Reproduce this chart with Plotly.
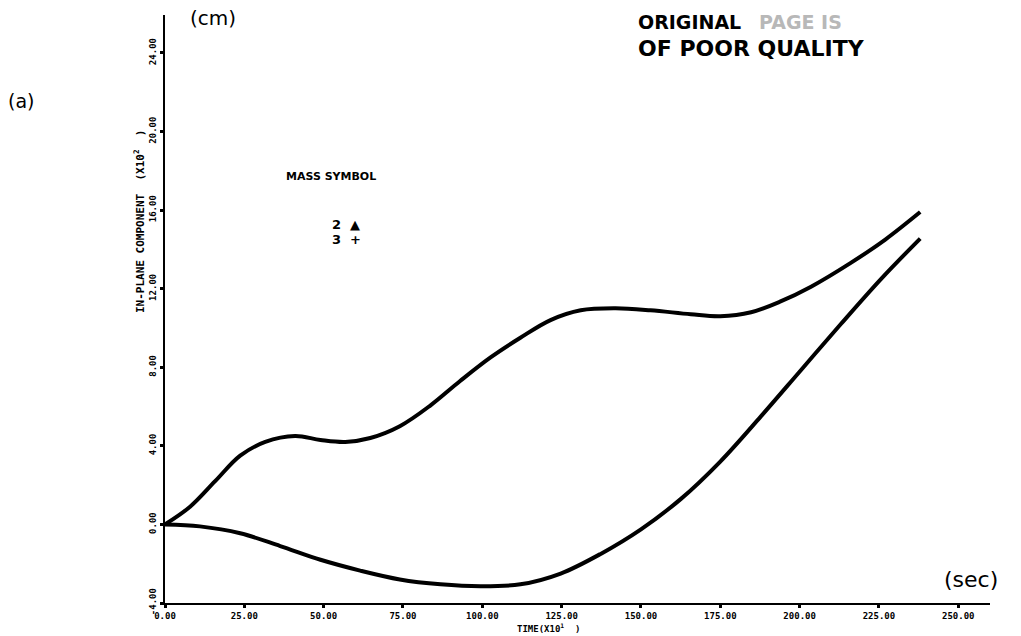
import plotly.graph_objects as go

# Time axis (x10 sec) and in-plane displacement (x10^2 cm) for the two masses
time_m2 = [0, 7.9, 15.8, 23.7, 31.6, 41, 49, 56.8, 64.7, 74, 83.6, 93, 102.6, 112,
           121.5, 131, 142, 153, 165.7, 175, 184.7, 194, 203.6, 216, 227, 238]
disp_m2 = [0, 0.9, 2.2, 3.5, 4.2, 4.5, 4.3, 4.2, 4.4, 5.0, 6.05, 7.3, 8.5, 9.5,
           10.4, 10.9, 11.0, 10.9, 10.7, 10.6, 10.8, 11.35, 12.1, 13.3, 14.5, 15.9]

time_m3 = [0, 11, 23.7, 36.3, 49, 61.5, 74, 86.8, 99.4, 112, 124.7, 137.3, 150,
           162.6, 175, 187.8, 200.4, 213, 225.7, 238]
disp_m3 = [0, -0.1, -0.45, -1.1, -1.8, -2.35, -2.8, -3.05, -3.15, -3.05, -2.5, -1.5,
           -0.25, 1.3, 3.2, 5.5, 7.85, 10.2, 12.5, 14.55]

x_ticks = [0, 25, 50, 75, 100, 125, 150, 175, 200, 225, 250]
x_tick_labels = ["0.00", "25.00", "50.00", "75.00", "100.00", "125.00", "150.00",
                 "175.00", "200.00", "225.00", "250.00"]
y_ticks = [-4, 0, 4, 8, 12, 16, 20, 24]
y_tick_labels = ["-4.00", "0.00", "4.00", "8.00", "12.00", "16.00", "20.00", "24.00"]

# plot-area geometry in page pixels
W, H = 1021, 636
L, R, T, B = 165, 31, 15, 33
PW, PH = W - L - R, H - T - B

fig = go.Figure()
for t, d, name in [(time_m2, disp_m2, "2"), (time_m3, disp_m3, "3")]:
    fig.add_trace(go.Scatter(
        x=t, y=d, name=name, mode="lines",
        line=dict(color="black", width=4, shape="spline", smoothing=1.0),
        showlegend=False,
    ))

tick_font = dict(family="DejaVu Sans Mono", size=9, color="black", weight="bold")

fig.update_layout(
    width=W, height=H,
    margin=dict(l=L, r=R, t=T, b=B),
    paper_bgcolor="white", plot_bgcolor="white",
    xaxis=dict(
        range=[0, 260], tickmode="array", tickvals=x_ticks, ticktext=x_tick_labels,
        showline=True, linecolor="black", linewidth=2, showgrid=False, zeroline=False,
        ticks="outside", ticklen=3, tickwidth=3, tickcolor="black",
        tickfont=tick_font,
    ),
    yaxis=dict(
        range=[-4, 25.93], tickmode="array", tickvals=y_ticks, ticktext=y_tick_labels,
        showline=True, linecolor="black", linewidth=2, showgrid=False, zeroline=False,
        ticks="outside", ticklen=3, tickwidth=3, tickcolor="black",
        tickangle=-90, tickfont=tick_font,
    ),
)


def page_text(text, x, y, size, anchor="left", color="black",
              family="DejaVu Sans", bold=False, angle=0):
    """Annotation placed by page pixel position (x, y from top-left)."""
    return dict(
        text=f"<b>{text}</b>" if bold else text,
        x=(x - L) / PW, y=(H - B - y) / PH,
        xref="paper", yref="paper", showarrow=False,
        xanchor=anchor, yanchor="middle", textangle=angle,
        font=dict(family=family, size=size, color=color),
    )


annotations = [
    page_text("TIME(X10<sup>1</sup>  )", 548, 628, 9, anchor="center",
              family="DejaVu Sans Mono", bold=True),
    page_text("IN-PLANE COMPONENT  (X10<sup>2</sup>  )", 139, 222, 11, anchor="center",
              family="DejaVu Sans Mono", bold=True, angle=-90),
    page_text("(a)", 6, 101, 19),
    page_text("(cm)", 188, 18, 20),
    page_text("(sec)", 942, 579, 22),
    page_text("ORIGINAL", 636, 22, 19, bold=True),
    page_text("PAGE IS", 757, 22, 19, color="#b8b8b8", bold=True),
    page_text("OF POOR QUALITY", 636, 48, 22, bold=True),
    page_text("MASS SYMBOL", 284, 176, 11, bold=True),
    page_text("2  ▲", 330, 224, 13, bold=True),
    page_text("3  +", 330, 239, 13, bold=True),
]
fig.update_layout(annotations=annotations)

fig.write_html("out.html")
